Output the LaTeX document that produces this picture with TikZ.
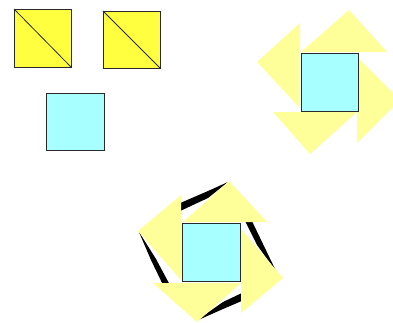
\documentclass[tikz,border=0pt]{standalone}
\usepackage{xcolor}
\usepackage{tikz}
\definecolor{TileYellow}{HTML}{FFFF40}
\definecolor{PetalYellow}{HTML}{FFFF99}
\definecolor{TileCyan}{HTML}{A8FFFF}
\definecolor{EdgeDark}{HTML}{2A2A2A}
\begin{document}
\begin{tikzpicture}[x=1pt,y=-1pt,
    halfsq/.style={draw=EdgeDark, fill=TileYellow, line width=0.8pt},
    cyansq/.style={draw=EdgeDark, fill=TileCyan, line width=0.8pt},
    petal/.style={fill=PetalYellow},
    sliver/.style={fill=black}]
  \clip (0,0) rectangle (393,322);
  % loose pieces
  \draw[halfsq] (14,9) rectangle (71,67); \draw[EdgeDark,line width=0.8pt] (14,9) -- (71,67);
  \draw[halfsq] (103,11) rectangle (160,68); \draw[EdgeDark,line width=0.8pt] (103,11) -- (160,68);
  \draw[cyansq] (46,93) rectangle (104,150);
  % pinwheel
  \fill[petal] (301,52) -- (349,10) -- (387,52) -- cycle;
  \fill[petal] (357,57) -- (400,100) -- (357,143) -- cycle;
  \fill[petal] (357,112) -- (310,154) -- (273,112) -- cycle;
  \fill[petal] (300,108) -- (257,62) -- (300,23) -- cycle;
  \draw[cyansq] (301,53) rectangle (358,111);
  % pinwheel with shadows
  \fill[sliver] (178,204) -- (208,191) -- (228,182) -- (208,198) -- (178,212) -- cycle;
  \fill[sliver] (243,217) -- (257,245) -- (276,271) -- (263,244) -- (250,217) -- cycle;
  \fill[sliver] (244,292) -- (223,302) -- (196,321) -- (223,309) -- (244,300) -- cycle;
  \fill[sliver] (139,232) -- (151,260) -- (164,287) -- (171,287) -- (156,259) -- cycle;
  \fill[petal] (183,222) -- (229,181) -- (267,222) -- cycle;
  \fill[petal] (241,229) -- (283,278) -- (241,313) -- cycle;
  \fill[petal] (241,283) -- (197,322) -- (153,283) -- cycle;
  \fill[petal] (181,280) -- (138,231) -- (181,195) -- cycle;
  \draw[cyansq] (182,223) rectangle (240,281);
\end{tikzpicture}
\end{document}
